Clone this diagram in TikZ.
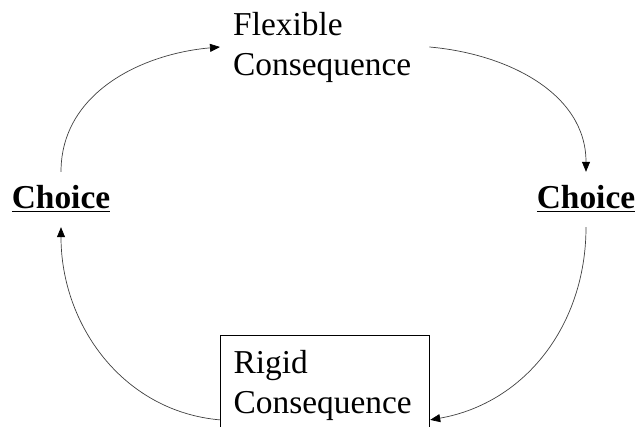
\documentclass[tikz,border=0pt]{standalone}
\usepackage{fontspec}
\setmainfont{Liberation Serif}
\usetikzlibrary{arrows.meta}

\begin{document}
\begin{tikzpicture}[
    x=1pt, y=1pt,
    conseq/.style={font=\fontsize{33.4}{40}\selectfont, align=left, text width=183pt, inner xsep=13pt},
    choice/.style={font=\fontsize{33.4}{40}\selectfont\bfseries, inner sep=0pt, text height=37pt, text depth=18pt},
    cycle arrow/.style={draw=black!75, line width=0.7pt, -{Triangle[length=10pt, width=8pt, color=black]}},
]
    \useasboundingbox (0,0) rectangle (637,427);
    \clip (0,0) rectangle (637,427);

    % Flexible consequence (top)
    \node[conseq, inner ysep=3pt, anchor=west] (flex) at (220,380) {Flexible\\Consequence};

    % Choices
    \node[choice, anchor=base] (choiceL) at (61,218) {\underline{Choice}};
    \node[choice, anchor=base] (choiceR) at (586,218) {\underline{Choice}};

    % Rigid consequence (bottom, boxed)
    \node[conseq, draw, line width=1.2pt, inner ysep=15pt, anchor=north west] (rigid) at (220,92) {Rigid\\Consequence};

    % Cycle
    \draw[cycle arrow] (choiceL.north) to[out=90, in=185] (flex.west);
    \draw[cycle arrow] (flex.east) to[out=-5, in=90] (choiceR.north);
    \draw[cycle arrow] (choiceR.south) to[out=-90, in=10] (rigid.342);
    \draw[cycle arrow] (rigid.198) to[out=175, in=-90] (choiceL.south);
\end{tikzpicture}
\end{document}
